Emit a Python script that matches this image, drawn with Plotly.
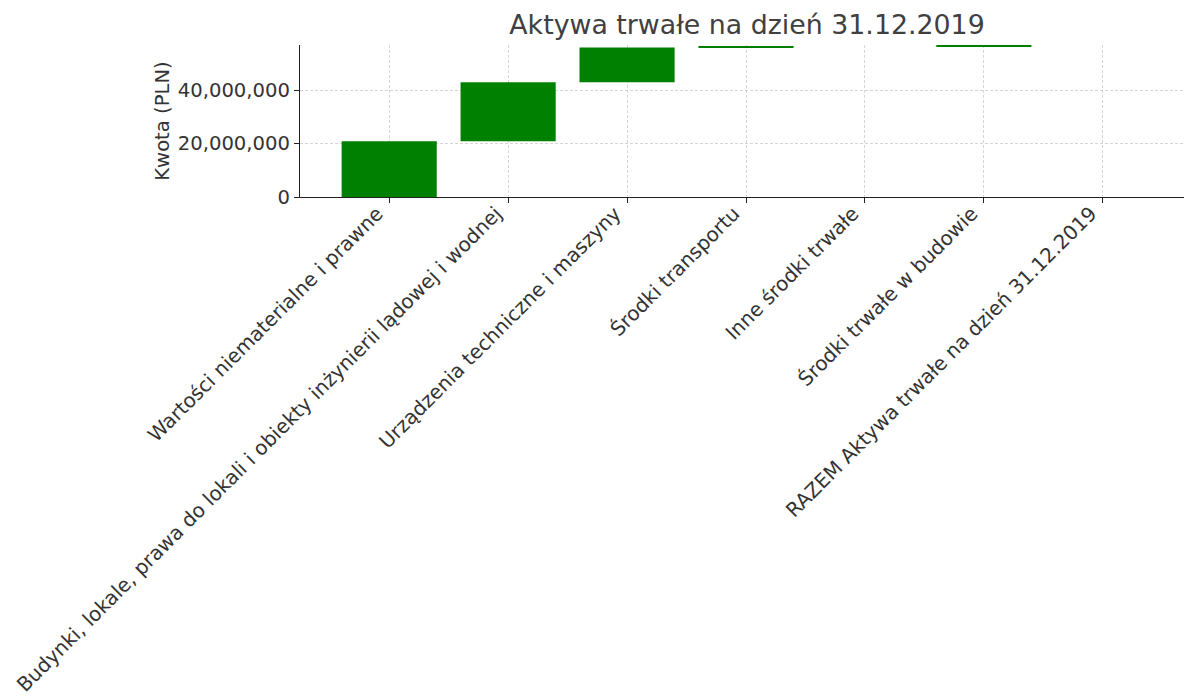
import numpy as np
import plotly.graph_objects as go

categories = [
    "Wartości niematerialne i prawne",
    "Budynki, lokale, prawa do lokali i obiekty inżynierii lądowej i wodnej",
    "Urządzenia techniczne i maszyny",
    "Środki transportu",
    "Inne środki trwałe",
    "Środki trwałe w budowie",
    "RAZEM Aktywa trwałe na dzień 31.12.2019",
]
# increments (PLN); the total bar shows no visible height
increments = [20_900_000, 22_100_000, 13_000_000, 500_000, 0, 400_000, 0]
y_ticks = [0, 20_000_000, 40_000_000]
y_top = 56_900_000

bases = list(np.concatenate([[0], np.cumsum(increments)[:-1]]))

FONT = "DejaVu Sans"
TXT = "#333333"
GRID = "rgba(185,185,185,0.6)"
BODY = 8  # default page body margin
FS = 19.6
FSX = 19.9

fig = go.Figure()
fig.add_trace(go.Bar(
    x=list(range(len(categories))),
    y=increments,
    base=bases,
    width=0.8,
    marker=dict(color="#008000", line=dict(width=0)),
    showlegend=False,
))

fig.update_layout(
    width=1192, height=697,
    margin=dict(l=300 - BODY, r=BODY, t=45 - BODY, b=697 - 197 + BODY),
    paper_bgcolor="white", plot_bgcolor="white",
    font=dict(family=FONT, size=FS, color=TXT),
    title=dict(text="Aktywa trwałe na dzień 31.12.2019", x=(747 - BODY) / 1192, xanchor="center",
               y=1 - (25 - BODY) / 697, yanchor="middle", yref="container",
               font=dict(family=FONT, size=26.8, color="#404040")),
)
fig.update_xaxes(
    range=[-0.75, 6.75],
    tickmode="array", tickvals=list(range(len(categories))), ticktext=categories,
    tickangle=-45, tickfont=dict(family=FONT, size=FSX, color=TXT),
    ticklabelshift=-12, ticklabelstandoff=-9, ticklabeloverflow="allow",
    showline=True, linecolor="#222222", linewidth=1.2,
    ticks="outside", ticklen=5, tickcolor="#222222", tickwidth=1.2,
    showgrid=True, gridcolor=GRID, griddash="3px,2px", gridwidth=1,
    zeroline=False, automargin=False, layer="above traces",
)
fig.update_yaxes(
    range=[0, y_top],
    tickmode="array", tickvals=y_ticks, tickformat=",d",
    tickfont=dict(family=FONT, size=FS, color=TXT),
    showline=True, linecolor="#222222", linewidth=1.2,
    ticks="outside", ticklen=5, tickcolor="#222222", tickwidth=1.2,
    showgrid=True, gridcolor=GRID, griddash="3px,2px", gridwidth=1,
    zeroline=False, automargin=False, layer="above traces",
    title=dict(text="Kwota (PLN)", standoff=2, font=dict(family=FONT, size=FS, color=TXT)),
)

fig.write_html("out.html")
